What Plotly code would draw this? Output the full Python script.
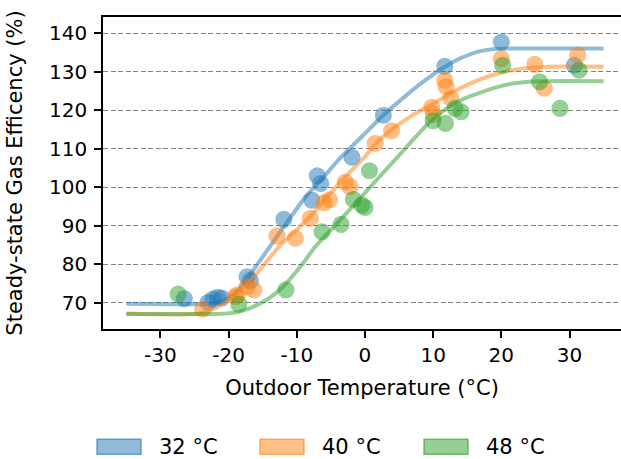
import plotly.graph_objects as go

# ---------------- data ----------------
series_names = ["32 °C", "40 °C", "48 °C"]
series_colors = [(31, 119, 180), (255, 127, 14), (44, 160, 44)]

blue_x = [-26.5, -23.0, -22.3, -21.6, -21.0, -17.3, -16.8, -11.9, -7.8, -7.0, -6.5, -1.9, 2.7, 11.7, 20.0, 30.7]
blue_y = [71.1, 70.2, 71.0, 71.5, 71.3, 76.8, 75.8, 91.7, 96.7, 103.0, 101.0, 107.8, 118.7, 131.4, 137.7, 131.7]

orange_x = [-23.8, -19.0, -18.7, -17.3, -16.3, -12.9, -10.2, -8.0, -6.0, -5.2, -2.9, -2.2, 1.5, 3.9,
            9.8, 10.0, 11.7, 11.9, 12.6, 20.0, 24.9, 26.3, 31.2]
orange_y = [68.4, 71.6, 72.1, 74.2, 73.4, 87.4, 86.8, 92.0, 96.0, 96.8, 101.4, 100.2, 111.4, 114.7,
            120.8, 119.0, 127.8, 126.1, 123.1, 133.4, 131.9, 125.7, 134.3]

green_x = [-27.4, -18.5, -11.6, -6.3, -3.5, -1.7, -0.45, 0.0, 0.66, 10.0, 11.8, 13.2, 14.1, 20.2, 25.6, 28.6, 31.4]
green_y = [72.3, 69.7, 73.4, 88.5, 90.4, 96.9, 95.4, 94.8, 104.3, 117.3, 116.6, 120.5, 119.6, 131.7, 127.4, 120.5, 130.4]

# fitted curves
blue_fit_x = [-35, -23, -21, -19, -17, -14, -11, -8.7, -6, -3.9, 0, 2.7, 6, 9, 11.7, 14, 16.6, 19, 21, 35]
blue_fit_y = [69.8, 69.8, 70.4, 72.6, 77.0, 84.5, 92.0, 97.6, 102.8, 107.1, 114.0, 118.7, 123.8, 128.0,
              131.3, 133.5, 135.2, 135.9, 136.0, 136.0]

orange_fit_x = [-35, -24.5, -22, -20, -17.5, -15, -12.5, -10, -8, -5.8, -3, 0, 1.5, 3.9, 7, 9.8, 13,
                16.6, 20, 24, 27, 35]
orange_fit_y = [67.2, 67.2, 68.6, 70.8, 74.5, 79.5, 84.8, 89.0, 92.5, 97.0, 102.5, 108.0, 111.2, 114.9,
                118.8, 121.5, 124.8, 127.8, 129.8, 131.0, 131.3, 131.3]

green_fit_x = [-35, -21, -18.5, -16, -14, -12, -10.7, -9, -7.3, -4.35, -0.95, 2, 5, 7.5, 9.75, 12, 14.5,
               16.6, 19, 21.5, 24, 26, 35]
green_fit_y = [67.2, 67.2, 67.7, 69.3, 71.3, 74.2, 76.8, 80.5, 84.6, 90.2, 96.7, 102.5, 108.3, 113.2,
               117.4, 120.5, 123.0, 124.4, 125.8, 126.9, 127.4, 127.55, 127.55]

x_tick_vals = [-30, -20, -10, 0, 10, 20, 30]
x_tick_text = ["-30", "-20", "-10", "0", "10", "20", "30"]
y_tick_vals = [70, 80, 90, 100, 110, 120, 130, 140]

# ---------------- figure ----------------
W, H = 621, 459
L, T, R, B = 103, 17, 0, 129.5

def rgba(c, a):
    return "rgba(%d,%d,%d,%.2f)" % (c[0], c[1], c[2], a)

fig = go.Figure()
pts = [(blue_x, blue_y), (orange_x, orange_y), (green_x, green_y)]
fits = [(blue_fit_x, blue_fit_y), (orange_fit_x, orange_fit_y), (green_fit_x, green_fit_y)]

for (px, py), (fx, fy), c, n in zip(pts, fits, series_colors, series_names):
    fig.add_trace(go.Scatter(x=fx, y=fy, mode="lines", name=n, showlegend=False,
                             line=dict(color=rgba(c, 0.5), width=4, shape="spline", smoothing=0.6),
                             hoverinfo="skip"))
    fig.add_trace(go.Scatter(x=px, y=py, mode="markers", name=n, showlegend=False,
                             marker=dict(size=15.5, color=rgba(c, 1), opacity=0.5,
                                         line=dict(color=rgba(c, 1), width=1.6))))

font = "DejaVu Sans"
fig.update_layout(
    width=W, height=H,
    margin=dict(l=L, r=R, t=T, b=B, pad=0, autoexpand=False),
    paper_bgcolor="white", plot_bgcolor="white",
    font=dict(family=font, size=20, color="black"),
    showlegend=False,
)
fig.update_xaxes(range=[-38.42, 37.55], tickvals=x_tick_vals, ticktext=x_tick_text,
                 showgrid=False, zeroline=False, automargin=False,
                 showline=True, linecolor="black", linewidth=1.5, mirror=True,
                 ticks="outside", ticklen=7, tickwidth=1.5, tickcolor="black",
                 tickfont=dict(size=20),
                 title=dict(text="Outdoor Temperature (°C)", font=dict(size=21), standoff=15))
fig.update_yaxes(range=[63.25, 144.2], tickvals=y_tick_vals,
                 showgrid=True, gridcolor="rgba(90,90,90,0.75)", griddash="5px,2.5px", gridwidth=1.1,
                 zeroline=False, automargin=False,
                 showline=True, linecolor="black", linewidth=1.5, mirror=False,
                 ticks="outside", ticklen=7, tickwidth=1.5, tickcolor="black",
                 ticklabelstandoff=3,
                 tickfont=dict(size=20),
                 title=dict(text="Steady-state Gas Efficency (%)", font=dict(size=21), standoff=21))

# manual legend (patch style) below the plot
pw, ph = W - L - R, H - T - B
def px2x(p): return (p - L) / pw
def py2y(p): return (H - B - p) / ph

patch_left = [97, 260, 424]
for left, c, n in zip(patch_left, series_colors, series_names):
    fig.add_shape(type="rect", xref="paper", yref="paper",
                  x0=px2x(left), x1=px2x(left + 44), y0=py2y(440), y1=py2y(455),
                  fillcolor=rgba(c, 0.5), line=dict(color=rgba(c, 0.6), width=1.5))
    fig.add_annotation(xref="paper", yref="paper", x=px2x(left + 60), y=py2y(447.5),
                       xanchor="left", yanchor="middle", text=n, showarrow=False,
                       font=dict(size=21, family=font, color="black"))

fig.write_html("out.html", config={"displayModeBar": False},
               post_script="document.body.style.margin='0';document.body.style.overflow='hidden';")
